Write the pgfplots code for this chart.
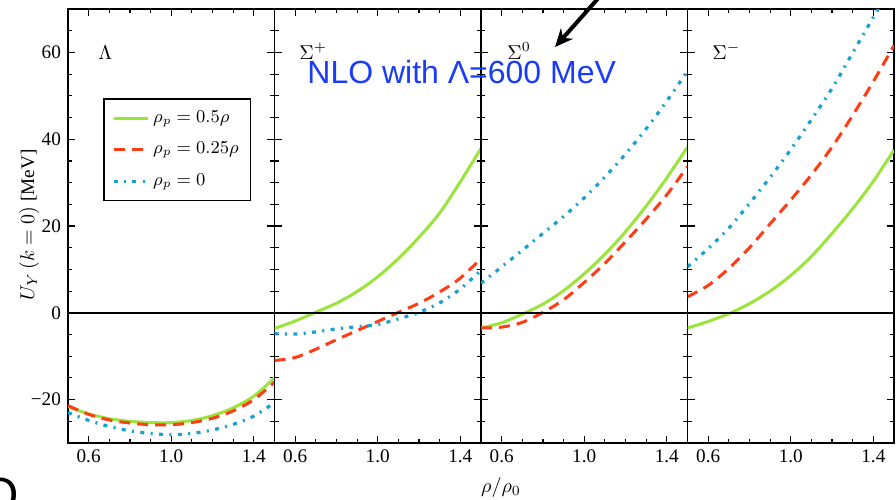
\documentclass[border=0pt]{standalone}
\usepackage{pgfplots}
\pgfplotsset{compat=1.18}
\usepackage{pgfplotstable}
\usepackage{fontspec}
\setmainfont{Liberation Serif}
\newfontfamily\arialfont{Liberation Sans}
\usetikzlibrary{arrows.meta}
\definecolor{cg}{RGB}{154,228,60}
\definecolor{cr}{RGB}{255,60,20}
\definecolor{cb}{RGB}{25,160,210}
\definecolor{nlo}{RGB}{25,60,250}

\pgfplotstableread{
x g r b
0.5 -21.6 -21.4 -23.0
0.6 -23.3 -23.4 -24.8
0.7 -24.4 -24.7 -26.2
0.8 -25.0 -25.4 -27.2
0.9 -25.3 -25.8 -27.8
1.0 -25.3 -25.8 -28.1
1.1 -24.8 -25.3 -27.8
1.2 -23.7 -24.3 -27.0
1.3 -21.9 -22.6 -25.7
1.4 -19.2 -20.0 -23.8
1.5 -15.0 -16.0 -20.7
}\tabL
\pgfplotstableread{
x g r b
0.5 -3.6 -11.0 -4.8
0.6 -1.9 -10.3 -4.9
0.7 0.15 -8.4 -4.4
0.8 2.2 -6.2 -3.7
0.9 4.9 -4.1 -3.2
1.0 8.3 -2.0 -2.7
1.1 12.5 0.1 -1.4
1.2 17.4 2.2 0.1
1.3 23.0 4.8 2.3
1.4 30.2 8.0 5.5
1.5 37.9 12.5 9.8
}\tabSp
\pgfplotstableread{
x g r b
0.5 -3.5 -3.5 6.8
0.6 -2.3 -3.3 10.6
0.7 -0.3 -2.2 14.4
0.8 2.0 0.1 18.3
0.9 5.1 3.0 22.2
1.0 9.0 7.0 26.5
1.1 13.5 11.4 31.3
1.2 18.7 16.4 36.6
1.3 24.6 21.6 42.4
1.4 31.1 27.2 48.8
1.5 38.2 33.7 55.7
}\tabSz
\pgfplotstableread{
x g r b
0.5 -3.5 3.7 10.6
0.6 -2.0 6.3 14.8
0.7 -0.2 10.2 19.5
0.8 2.1 15.0 25.2
0.9 5.0 20.5 31.2
1.0 8.6 26.0 37.6
1.1 13.0 31.8 44.5
1.2 18.3 38.2 51.7
1.3 24.0 45.5 59.9
1.4 30.3 53.3 68.1
1.5 37.5 61.6 76.5
}\tabSm

\pgfplotsset{
 panel/.style={scale only axis, width=103.25pt, height=217pt,
   xmin=0.5, xmax=1.5, ymin=-30, ymax=70,
   xtick={0.6,1.0,1.4}, xticklabels={0.6,1.0,1.4},
   minor xtick={0.5,0.7,0.8,0.9,1.1,1.2,1.3,1.5},
   ytick={-20,0,20,40,60},
   minor ytick={-25,-15,-10,-5,5,10,15,25,30,35,45,50,55,65},
   axis line style={line width=0.9pt},
   major tick length=3.5pt, minor tick length=2pt,
   tick style={black, line width=0.6pt},
   tick label style={font=\fontsize{9.6}{11}\selectfont},
   anchor=north west},
 gline/.style={cg, line width=1.5pt, smooth},
 rline/.style={cr, line width=1.5pt, smooth, dash pattern=on 5.5pt off 3.5pt},
 bline/.style={cb, line width=1.6pt, smooth, dash pattern=on 2pt off 3.2pt on 1pt off 3.2pt},
 zline/.style={black, line width=0.9pt, forget plot},
}

\begin{document}
\begin{tikzpicture}
\useasboundingbox (0,0) rectangle (448pt,-249.5pt);

\begin{axis}[panel, at={(34pt,-4.5pt)},
  yticklabels={−20,0,20,40,60},
  legend style={at={(0.17,0.795)}, anchor=north west, draw=black, line width=0.8pt,
    font=\fontsize{9}{11}\selectfont, inner sep=4pt, row sep=4.5pt},
  legend cell align=left]
\addplot[gline] table[x=x,y=g] {\tabL};
\addplot[rline] table[x=x,y=r] {\tabL};
\addplot[bline] table[x=x,y=b] {\tabL};
\addplot[zline] coordinates {(0.5,0) (1.5,0)};
\legend{$\rho_p = 0.5\rho$, $\rho_p = 0.25\rho$, $\rho_p = 0$}
\end{axis}

\begin{axis}[panel, at={(137.25pt,-4.5pt)}, yticklabels={}]
\addplot[gline] table[x=x,y=g] {\tabSp};
\addplot[rline] table[x=x,y=r] {\tabSp};
\addplot[bline] table[x=x,y=b] {\tabSp};
\addplot[zline] coordinates {(0.5,0) (1.5,0)};
\end{axis}

\begin{axis}[panel, at={(240.5pt,-4.5pt)}, yticklabels={}]
\addplot[gline] table[x=x,y=g] {\tabSz};
\addplot[rline] table[x=x,y=r] {\tabSz};
\addplot[bline] table[x=x,y=b] {\tabSz};
\addplot[zline] coordinates {(0.5,0) (1.5,0)};
\end{axis}

\begin{axis}[panel, at={(343.75pt,-4.5pt)}, yticklabels={}]
\addplot[gline] table[x=x,y=g] {\tabSm};
\addplot[rline] table[x=x,y=r] {\tabSm};
\addplot[bline] table[x=x,y=b] {\tabSm};
\addplot[zline] coordinates {(0.5,0) (1.5,0)};
\end{axis}

% panel labels
\node[anchor=base west, inner sep=0] at (49pt,-29.5pt) {\fontsize{10}{12}\selectfont$\Lambda$};
\node[anchor=base west, inner sep=0] at (149.5pt,-29.5pt) {\fontsize{10}{12}\selectfont$\Sigma^{+}$};
\node[anchor=base west, inner sep=0] at (253.5pt,-29.5pt) {\fontsize{10}{12}\selectfont$\Sigma^{0}$};
\node[anchor=base west, inner sep=0] at (356pt,-29.5pt) {\fontsize{10}{12}\selectfont$\Sigma^{-}$};

% axis labels
\node[rotate=90, inner sep=0] at (14.5pt,-112.5pt) {\fontsize{9.6}{11}\selectfont$U_Y\,(k=0)$ [MeV]};
\node[inner sep=0] at (250.5pt,-243.5pt) {\fontsize{9.6}{11}\selectfont$\rho/\rho_0$};

% annotation
\node[anchor=base west, inner sep=0, text=nlo] at (153.5pt,-41.5pt) {\arialfont\fontsize{16}{18}\selectfont NLO with Λ=600 MeV};
\draw[line width=2pt, -{Stealth[length=9pt,width=8pt]}] (301pt,3pt) -- (277.5pt,-23.5pt);
\node[anchor=north, inner sep=0] at (0pt,-239pt) {\arialfont\fontsize{24}{26}\selectfont O};
\end{tikzpicture}
\end{document}
